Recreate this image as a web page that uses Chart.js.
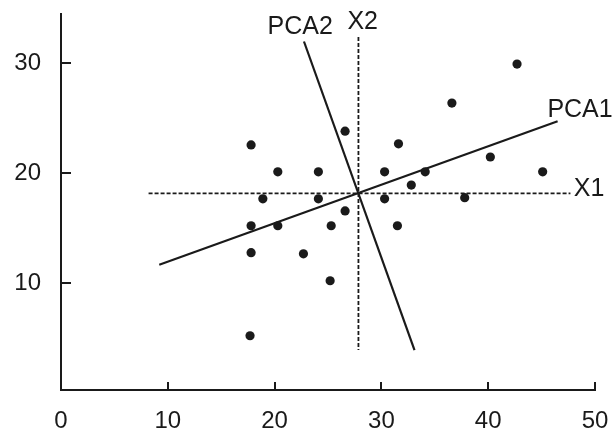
<!DOCTYPE html>
<html>
<head>
<meta charset="utf-8">
<script src="https://cdn.jsdelivr.net/npm/chart.js@4/dist/chart.umd.min.js"></script>
<style>
    body { margin: 0; background: #fff; }
    canvas { display: block; }
</style>
</head>
<body>
<canvas id="grafico-pca" width="613" height="430"></canvas>
<script>
// punti osservati
var puntiX = [17.8, 20.3, 24.1, 26.6, 18.9, 24.1, 26.6, 17.8, 20.3, 25.3, 31.6, 30.3, 34.1, 32.8, 30.3, 31.5, 42.7, 36.6, 40.2, 45.1, 37.8, 17.8, 22.7, 25.2, 17.7];
var puntiY = [22.55, 20.1, 20.1, 23.8, 17.65, 17.65, 16.55, 15.2, 15.2, 15.2, 22.65, 20.1, 20.1, 18.9, 17.65, 15.2, 29.9, 26.35, 21.45, 20.1, 17.75, 12.75, 12.65, 10.2, 5.2];

// assi originali e componenti principali (estremi)
var assiX1 = [[8.2, 18.15], [47.7, 18.15]];
var assiX2 = [[27.85, 32.35], [27.85, 3.9]];
var pca1 = [[9.2, 11.65], [46.5, 24.7]];
var pca2 = [[22.75, 31.95], [33.1, 3.9]];

// etichette delle rette
var etichette = ['PCA2', 'X2', 'PCA1', 'X1'];
var etichetteXY = [[22.4, 33.3], [28.25, 33.7], [48.6, 25.7], [49.45, 18.5]];

var tickX = [0, 10, 20, 30, 40, 50];
var tickY = [10, 20, 30];

var nero = '#1a1a1a';
var font = '"Liberation Sans", Arial, sans-serif';

function toXY (arr) {
    return arr.map(function (p) { return {x: p[0], y: p[1]}; });
}

var punti = puntiX.map(function (x, i) { return {x: x, y: puntiY[i]}; });

function retta (dati, tratteggio, spessore) {
    return {
        type: 'line',
        data: toXY(dati),
        showLine: true,
        borderColor: nero,
        borderWidth: spessore,
        borderDash: tratteggio,
        pointRadius: 0,
        fill: false
    };
}

// tacche verso l'interno + etichette delle rette
var decorazioni = {
    id: 'decorazioni',
    afterDraw: function (chart) {
        var ctx = chart.ctx;
        var sx = chart.scales.x;
        var sy = chart.scales.y;
        var area = chart.chartArea;
        ctx.save();
        ctx.strokeStyle = nero;
        ctx.lineWidth = 2;
        tickX.forEach(function (v) {
            if (v === 0) return;
            var px = Math.round(sx.getPixelForValue(v));
            ctx.beginPath();
            ctx.moveTo(px, area.bottom);
            ctx.lineTo(px, area.bottom - 8);
            ctx.stroke();
        });
        tickY.forEach(function (v) {
            var py = Math.round(sy.getPixelForValue(v));
            ctx.beginPath();
            ctx.moveTo(area.left, py);
            ctx.lineTo(area.left + 10, py);
            ctx.stroke();
        });
        ctx.fillStyle = nero;
        ctx.font = '25px ' + font;
        ctx.textAlign = 'center';
        ctx.textBaseline = 'middle';
        etichette.forEach(function (t, i) {
            ctx.fillText(t, sx.getPixelForValue(etichetteXY[i][0]), sy.getPixelForValue(etichetteXY[i][1]));
        });
        ctx.restore();
    }
};

var ctx = document.getElementById('grafico-pca');
new Chart(ctx, {
    type: 'scatter',
    data: {
        datasets: [
            {
                data: punti,
                backgroundColor: nero,
                borderColor: nero,
                pointRadius: 4.6,
                pointBorderWidth: 0
            },
            retta(assiX1, [4, 2], 1.8),
            retta(assiX2, [4, 2], 1.8),
            retta(pca1, [], 2.2),
            retta(pca2, [], 2.2)
        ]
    },
    options: {
        responsive: false,
        animation: false,
        layout: { padding: { left: 0, top: 14, right: 18, bottom: 0 } },
        plugins: { legend: { display: false }, tooltip: { enabled: false } },
        scales: {
            x: {
                type: 'linear',
                min: 0,
                max: 50,
                afterBuildTicks: function (scale) {
                    scale.ticks = tickX.map(function (v) { return {value: v}; });
                },
                afterFit: function (scale) {
                    scale.height = 40;
                    scale.paddingLeft = 0;
                    scale.paddingRight = 0;
                },
                grid: { display: false },
                border: { display: true, color: nero, width: 2 },
                ticks: { color: nero, font: { family: font, size: 24 }, padding: 9, maxRotation: 0 }
            },
            y: {
                type: 'linear',
                min: 0.27,
                max: 34.45,
                afterBuildTicks: function (scale) {
                    scale.ticks = tickY.map(function (v) { return {value: v}; });
                },
                afterFit: function (scale) {
                    scale.width = 61;
                    scale.paddingTop = 0;
                    scale.paddingBottom = 0;
                },
                grid: { display: false },
                border: { display: true, color: nero, width: 2 },
                ticks: { color: nero, font: { family: font, size: 24 }, padding: 12 }
            }
        }
    },
    plugins: [decorazioni]
});
</script>
</body>
</html>
